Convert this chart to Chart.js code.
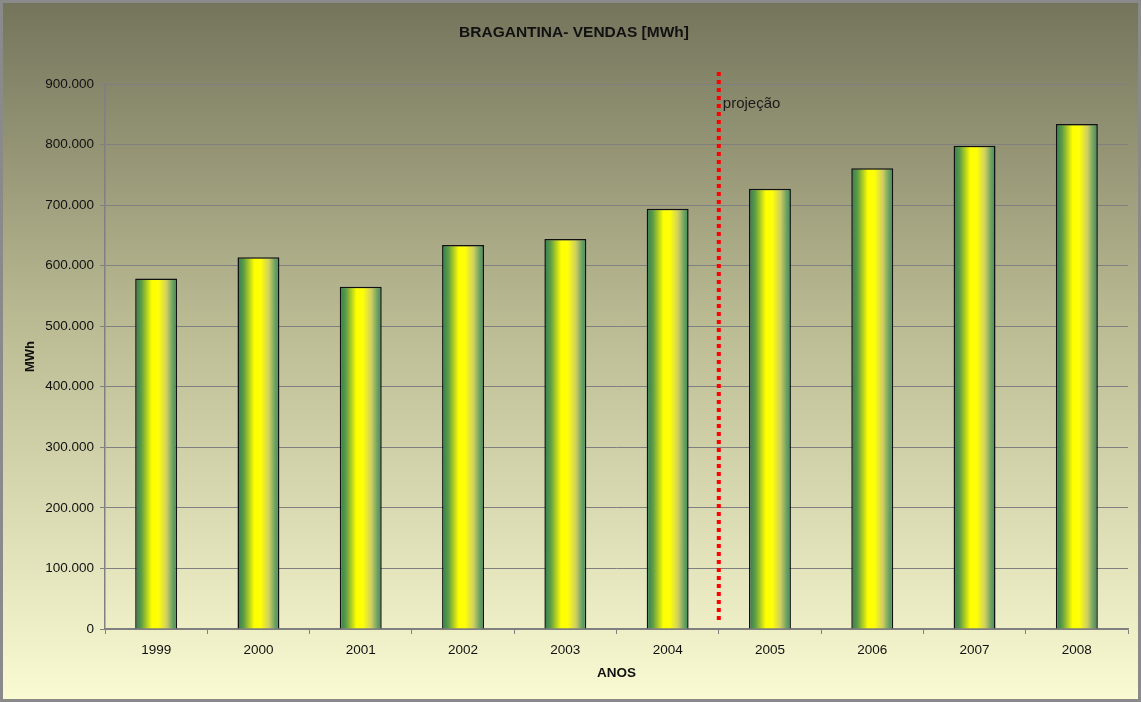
<!DOCTYPE html>
<html lang="en">
  <head>
    <meta charset="UTF-8" />
    <script src="https://cdn.jsdelivr.net/npm/chart.js"></script>
    <title>Bragantina - Vendas</title>
    <style>
      body { margin: 0; background: #fff; }
      canvas { display: block; }
    </style>
  </head>
  <body>
    <canvas id="myChart" width="1141" height="702"></canvas>
    <script>
      // data
      const anos = ["1999", "2000", "2001", "2002", "2003", "2004", "2005", "2006", "2007", "2008"];
      const vendas = [579000, 614000, 565000, 634000, 644000, 694000, 727000, 761000, 798000, 834000];
      const projecaoEntre = ["2004", "2005"]; // line sits between these years
      const projecaoTopo = 920000;
      const projecaoBase = 15000;
      const larguraBarra = 0.41;

      // background + frame
      const fundo = {
        id: "fundo",
        beforeDraw(chart) {
          const { ctx, width, height } = chart;
          const g = ctx.createLinearGradient(0, 0, 0, height);
          g.addColorStop(0, "#74745c");
          g.addColorStop(0.45, "#b9b992");
          g.addColorStop(1, "#fbfbd3");
          ctx.save();
          ctx.fillStyle = g;
          ctx.fillRect(0, 0, width, height);
          ctx.strokeStyle = "#8a8a8a";
          ctx.lineWidth = 3;
          ctx.strokeRect(1.5, 1.5, width - 3, height - 3);
          ctx.restore();
        },
      };

      // red dotted line + label
      const projecao = {
        id: "projecao",
        afterDatasetsDraw(chart) {
          const { ctx, scales } = chart;
          const i0 = anos.indexOf(projecaoEntre[0]);
          const i1 = anos.indexOf(projecaoEntre[1]);
          const x = (scales.x.getPixelForValue(i0) + scales.x.getPixelForValue(i1)) / 2;
          const y1 = scales.y.getPixelForValue(projecaoTopo);
          const y2 = scales.y.getPixelForValue(projecaoBase);
          ctx.save();
          ctx.strokeStyle = "#ff0000";
          ctx.lineWidth = 4;
          ctx.setLineDash([4, 4]);
          ctx.beginPath();
          ctx.moveTo(x, y1);
          ctx.lineTo(x, y2);
          ctx.stroke();
          ctx.setLineDash([]);
          ctx.fillStyle = "#1a1a1a";
          ctx.font = "15px Arial, 'Liberation Sans'";
          ctx.textBaseline = "middle";
          ctx.fillText("projeção", x + 4, scales.y.getPixelForValue(868000));
          ctx.restore();
        },
      };

      function barFill(context) {
        const chart = context.chart;
        const sx = chart.scales && chart.scales.x;
        if (!sx || context.dataIndex === undefined) return "#ffff00";
        const cx = sx.getPixelForValue(context.dataIndex);
        const w = (sx.width / anos.length) * larguraBarra;
        if (!Number.isFinite(cx) || !Number.isFinite(w) || w <= 0) return "#ffff00";
        const x0 = cx - w / 2;
        const g = chart.ctx.createLinearGradient(x0, 0, x0 + w, 0);
        g.addColorStop(0, "#2b7f55");
        g.addColorStop(0.15, "#5f9c45");
        g.addColorStop(0.4, "#ffff00");
        g.addColorStop(0.55, "#ffff08");
        g.addColorStop(0.75, "#cfcf62");
        g.addColorStop(0.9, "#6aa062");
        g.addColorStop(1, "#3b8e5e");
        return g;
      }

      const fonte = "Arial, 'Liberation Sans', sans-serif";

      new Chart(document.getElementById("myChart"), {
        type: "bar",
        data: {
          labels: anos,
          datasets: [
            {
              label: "Vendas",
              data: vendas,
              backgroundColor: barFill,
              borderColor: "#111",
              borderWidth: 1.5,
              barPercentage: larguraBarra,
              categoryPercentage: 1,
            },
          ],
        },
        plugins: [fundo, projecao],
        options: {
          responsive: false,
          animation: false,
          layout: { padding: { left: 20, right: 13, top: 0, bottom: 18 } },
          plugins: {
            legend: { display: false },
            tooltip: { enabled: false },
            title: {
              display: true,
              text: "BRAGANTINA- VENDAS [MWh]",
              color: "#111",
              font: { family: fonte, size: 15.5, weight: "bold" },
              padding: { top: 23, bottom: 42.4 },
            },
          },
          scales: {
            x: {
              grid: { drawOnChartArea: false, drawTicks: true, tickLength: 5, color: "#808080" },
              border: { color: "#808080", width: 1.5 },
              ticks: { color: "#111", font: { family: fonte, size: 13.5 }, padding: 8 },
              title: {
                display: true,
                text: "ANOS",
                color: "#111",
                font: { family: fonte, size: 13.5, weight: "bold" },
                padding: { top: 4, bottom: 3 },
              },
              afterFit(s) { s.height = 55; },
            },
            y: {
              min: 0,
              max: 900000,
              grid: { color: "#808080", lineWidth: 1, tickLength: 5 },
              border: { color: "#808080", width: 1.5 },
              ticks: {
                stepSize: 100000,
                color: "#111",
                padding: 6,
                font: { family: fonte, size: 13.5 },
                callback: (v) => v.toLocaleString("de-DE"),
              },
              title: {
                display: true,
                text: "MWh",
                color: "#111",
                font: { family: fonte, size: 13, weight: "bold" },
                padding: { top: 3, bottom: 4 },
              },
              afterFit(s) { s.width = 85; },
            },
          },
        },
      });
    </script>
  </body>
</html>
